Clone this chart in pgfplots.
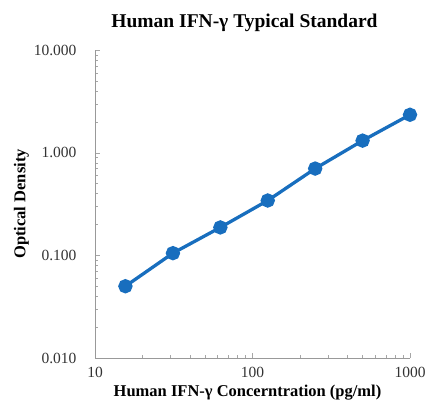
\documentclass[border=0pt]{standalone}
\usepackage{fontspec}
\setmainfont{Liberation Serif}
\usepackage{pgfplots}
\pgfplotsset{compat=1.18}
\definecolor{lineblue}{RGB}{24,110,190}
\begin{document}
\begin{tikzpicture}
\begin{axis}[
  name=ax,
  xmode=log, ymode=log,
  scale only axis,
  width=315bp, height=308bp,
  xmin=10, xmax=1000, ymin=0.01, ymax=10,
  axis lines=left,
  axis line style={gray!80, -},
  tick style={gray!70},
  major tick length=5bp, minor tick length=3bp,
  tick align=inside,
  xtick={10,100,1000}, xticklabels={10,100,1000},
  ytick={0.01,0.1,1,10}, yticklabels={0.010,0.100,1.000,10.000},
  ticklabel style={font=\fontsize{15.5bp}{17bp}\selectfont, text=black!80},
  xticklabel style={yshift=-6bp},
  yticklabel style={xshift=-15bp},
  xlabel={\textbf{Human IFN-γ Concerntration (pg/ml)}},
  ylabel={\textbf{Optical Density}},
  label style={font=\fontsize{16.5bp}{18bp}\selectfont},
  xlabel style={xshift=-5bp},
  ylabel style={yshift=-2bp},
  title={\textbf{Human IFN-γ Typical Standard}},
  title style={font=\fontsize{19.5bp}{21bp}\selectfont, yshift=9bp, xshift=-8bp},
  clip=false,
]
\addplot[lineblue, line width=3.3bp, mark=*, mark size=5.5bp, mark options={fill=lineblue, draw=none}]
coordinates {(15.6,0.050) (31.25,0.105) (62.5,0.187) (125,0.342) (250,0.700) (500,1.31) (1000,2.34)};
\end{axis}
\pgfresetboundingbox
\path ([xshift=-95bp,yshift=-52bp]ax.south west) rectangle ([xshift=18bp,yshift=50bp]ax.north east);
\end{tikzpicture}
\end{document}
